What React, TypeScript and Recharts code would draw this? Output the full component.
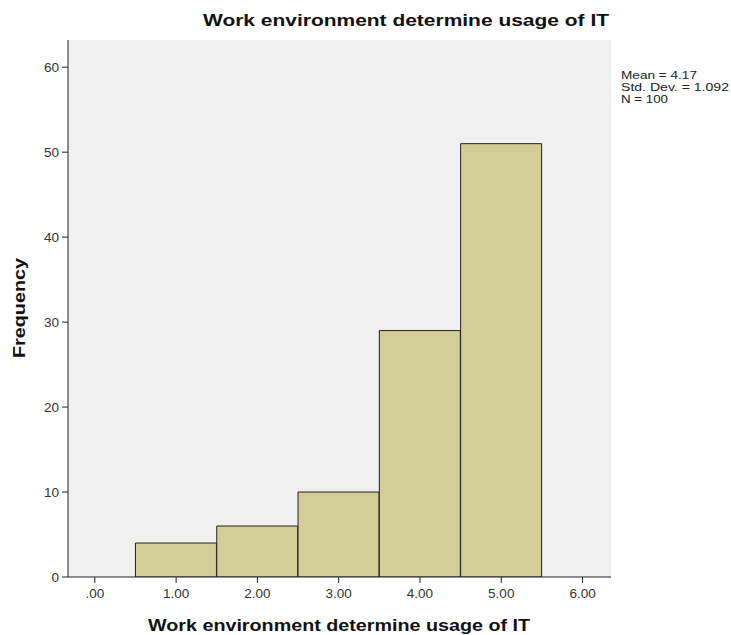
import { ComposedChart, Bar, XAxis, YAxis, CartesianGrid } from "recharts";

const binCenters = [1, 2, 3, 4, 5];
const frequencies = [4, 6, 10, 29, 51];
const xTicks = [0, 1, 2, 3, 4, 5, 6];
const xTickLabels = [".00", "1.00", "2.00", "3.00", "4.00", "5.00", "6.00"];
const yTicks = [0, 10, 20, 30, 40, 50, 60];
const statLines = ["Mean = 4.17", "Std. Dev. = 1.092", "N = 100"];
const statWidths = [76, 108, 47];

const data = binCenters.map((x, i) => ({ x, freq: frequencies[i] }));

const FONT = '"Liberation Sans", Arial, sans-serif';
const TITLE = "Work environment determine usage of IT";

export default function App() {
  return (
    <div style={{ position: "absolute", left: 0, top: 0, background: "#fff" }}>
      <ComposedChart
        width={731}
        height={635}
        data={data}
        margin={{ top: 40, right: 120, bottom: 28, left: 28 }}
        barCategoryGap={0}
        barGap={0}
      >
        <CartesianGrid horizontal={false} vertical={false} fill="#F0F0F0" />
        <XAxis
          dataKey="x"
          type="number"
          domain={[-0.33, 6.35]}
          allowDataOverflow
          ticks={xTicks}
          tickFormatter={(v: number) => xTickLabels[xTicks.indexOf(v)] ?? String(v)}
          height={30}
          tickSize={6}
          tickMargin={5}
          stroke="#222"
          tick={{ fill: "#333", fontSize: 13.5, fontFamily: FONT }}
        />
        <XAxis
          xAxisId="top"
          dataKey="x"
          type="number"
          orientation="top"
          domain={[-0.33, 6.35]}
          allowDataOverflow
          height={0}
          tick={false}
          tickLine={false}
          stroke="#555"
        />
        <YAxis
          domain={[0, 63.2]}
          allowDataOverflow
          ticks={yTicks}
          width={40}
          tickSize={6}
          tickMargin={3}
          stroke="#222"
          tick={{ fill: "#333", fontSize: 13.5, fontFamily: FONT }}
        />
        <YAxis
          yAxisId="right"
          orientation="right"
          domain={[0, 63.2]}
          width={0}
          tick={false}
          tickLine={false}
          stroke="#555"
        />
        <Bar
          dataKey="freq"
          fill="#D3CE97"
          stroke="#222"
          strokeWidth={1}
          isAnimationActive={false}
        />
        <text
          x={406}
          y={26}
          textAnchor="middle"
          textLength={406}
          lengthAdjust="spacingAndGlyphs"
          fontFamily={FONT}
          fontSize={17}
          fontWeight="bold"
          fill="#111"
        >
          {TITLE}
        </text>
        <text
          x={339}
          y={631}
          textAnchor="middle"
          textLength={382}
          lengthAdjust="spacingAndGlyphs"
          fontFamily={FONT}
          fontSize={16.5}
          fontWeight="bold"
          fill="#111"
        >
          {TITLE}
        </text>
        <text
          x={25}
          y={308}
          textAnchor="middle"
          transform="rotate(-90 25 308)"
          textLength={100}
          lengthAdjust="spacingAndGlyphs"
          fontFamily={FONT}
          fontSize={16.5}
          fontWeight="bold"
          fill="#111"
        >
          Frequency
        </text>
        {statLines.map((s, i) => (
          <text
            key={s}
            x={621}
            y={79 + i * 12}
            textLength={statWidths[i]}
            lengthAdjust="spacingAndGlyphs"
            fontFamily={FONT}
            fontSize={10.5}
            fill="#222"
          >
            {s}
          </text>
        ))}
      </ComposedChart>
    </div>
  );
}
